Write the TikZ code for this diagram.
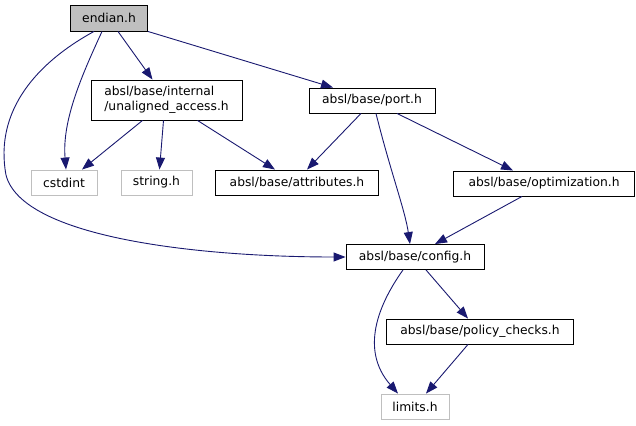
\documentclass[tikz,border=0pt]{standalone}
\usepackage{fontspec}
\setmainfont{DejaVu Sans}
\usetikzlibrary{arrows.meta}
\definecolor{edgeblue}{HTML}{191970}
\definecolor{greyfill}{HTML}{BFBFBF}
\definecolor{greyline}{HTML}{BFBFBF}
\tikzset{
  box/.style={draw=black, line width=0.9pt, inner sep=0pt, minimum height=25pt, font=\fontsize{12.3}{14.5}\selectfont},
  extbox/.style={box, draw=greyline},
  dep/.style={draw=edgeblue, line width=0.9pt, -{Triangle[length=12pt,width=9pt]}},
}
\begin{document}
\begin{tikzpicture}[x=1pt,y=-1pt]
\useasboundingbox (0,0) rectangle (636,425);
\node[box, fill=greyfill, minimum width=77pt, minimum height=26pt] (endian) at (109,18) {endian.h};
\node[box, minimum width=151pt, minimum height=40pt, align=left] (unal) at (166.5,100) {absl/base/internal\\/unaligned\_access.h};
\node[box, minimum width=126pt] (port) at (372,100.5) {absl/base/port.h};
\node[extbox, minimum width=66pt] (cstdint) at (64,182.5) {cstdint};
\node[extbox, minimum width=71pt] (string) at (156.5,182.5) {string.h};
\node[box, minimum width=163pt] (attr) at (297,182.5) {absl/base/attributes.h};
\node[box, minimum width=181pt] (opt) at (544,183.5) {absl/base/optimization.h};
\node[box, minimum width=138pt] (config) at (415,257) {absl/base/config.h};
\node[box, minimum width=187pt] (policy) at (480,331.5) {absl/base/policy\_checks.h};
\node[extbox, minimum width=68pt] (limits) at (415,406.5) {limits.h};

\draw[dep] ([xshift=-7pt]endian.south) .. controls (82,75) and (62,120) .. ([xshift=2pt]cstdint.north);
\draw[dep] ([xshift=-15pt]endian.south) .. controls (38,62) and (-6,110) .. (6,175) .. controls (22,238) and (200,257) .. (config.west);
\draw[dep] ([xshift=9pt]endian.south) -- ([xshift=-14pt]unal.north);
\draw[dep] (endian.south east) -- ([xshift=-39pt]port.north);
\draw[dep] ([xshift=-24pt]unal.south) -- ([xshift=18pt]cstdint.north);
\draw[dep] ([xshift=-3pt]unal.south) -- ([xshift=3pt]string.north);
\draw[dep] ([xshift=31pt]unal.south) -- ([xshift=-22pt]attr.north);
\draw[dep] ([xshift=-11pt]port.south) -- ([xshift=10pt]attr.north);
\draw[dep] ([xshift=4pt]port.south) .. controls (390,170) and (405,210) .. ([xshift=-5pt]config.north);
\draw[dep] ([xshift=25pt]port.south) -- ([xshift=-31pt]opt.north);
\draw[dep] ([xshift=-22pt]opt.south) -- ([xshift=20pt]config.north);
\draw[dep] ([xshift=11pt]config.south) -- ([xshift=-12pt]policy.north);
\draw[dep] ([xshift=-12pt]config.south) .. controls (378,305) and (360,350) .. ([xshift=-17pt]limits.north);
\draw[dep] ([xshift=-12pt]policy.south) -- ([xshift=11pt]limits.north);
\end{tikzpicture}
\end{document}
